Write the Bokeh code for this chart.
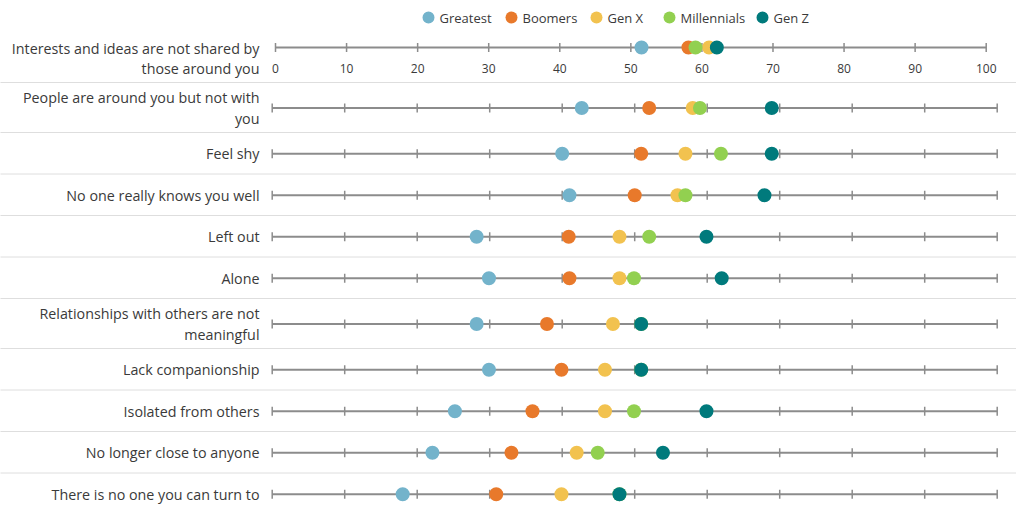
from bokeh.plotting import figure
from bokeh.models import Range1d
from bokeh.core.properties import value
from bokeh.embed import file_html
from bokeh.resources import INLINE

# ---------------- data ----------------
categories = [
    "Interests and ideas are not shared by\nthose around you",
    "People are around you but not with\nyou",
    "Feel shy",
    "No one really knows you well",
    "Left out",
    "Alone",
    "Relationships with others are not\nmeaningful",
    "Lack companionship",
    "Isolated from others",
    "No longer close to anyone",
    "There is no one you can turn to",
]
generations = ["Greatest", "Boomers", "Gen X", "Millennials", "Gen Z"]
greatest = [51.5, 42.7, 40.0, 41.0, 28.2, 29.9, 28.2, 29.9, 25.2, 22.1, 18.0]
boomers = [58.1, 52.0, 50.9, 50.0, 40.9, 41.0, 37.9, 39.9, 35.9, 33.0, 30.9]
gen_x = [61.0, 58.0, 57.0, 55.9, 47.9, 47.9, 47.0, 45.9, 45.9, 42.0, 39.9]
millennials = [59.1, 59.0, 61.9, 57.0, 52.0, 49.9, 50.9, 50.9, 49.9, 44.9, 47.9]
gen_z = [62.1, 68.9, 68.9, 67.9, 59.9, 62.0, 50.9, 50.9, 59.9, 53.9, 47.9]
tick_values = [0, 10, 20, 30, 40, 50, 60, 70, 80, 90, 100]
tick_labels = ["0", "10", "20", "30", "40", "50", "60", "70", "80", "90", "100"]

series = [greatest, boomers, gen_x, millennials, gen_z]
colors = ["#73B3CB", "#E8792B", "#F2C24F", "#92D050", "#007A7C"]

# ---------------- layout ----------------
W, H = 1017, 506
FONT = value("Open Sans")
TEXT_COLOR = "#3A3A3A"
AXIS_COLOR = "#8C8C8C"

# main scale: value 0 at px 271.7, 100 at 996.7
k_main = 7.25
xs_main = -271.7 / k_main
# first row scale: value 0 at px 275, 100 at 985.7
k_top = 7.107
xs_top = -275.0 / k_top


def px_x(px):
    return xs_main + px / k_main


p = figure(width=W, height=H, x_range=Range1d(xs_main, xs_main + W / k_main),
           y_range=Range1d(H, 0), x_axis_type=None, y_axis_type=None,
           min_border=0, toolbar_location=None, output_backend="svg",
           outline_line_color=None, background_fill_color="white")
p.extra_x_ranges = {"top": Range1d(xs_top, xs_top + W / k_top)}
p.grid.visible = False

# row geometry (y in pixels from top of canvas)
row_y = [47.0]
seps = [82.0]
for cat in categories[1:]:
    h = 50.0 if "\n" in cat else 41.5
    top = seps[-1]
    row_y.append(top + h / 2 + 0.5)
    seps.append(top + h)
seps = seps[:-1]

# separators
p.segment(x0=[px_x(0)] * len(seps), x1=[px_x(1016)] * len(seps), y0=seps, y1=seps,
          line_color="#BDBDBD", line_width=1, line_dash="1 1")

# category labels
label_y = [row_y[0] + 11] + row_y[1:]
p.text(x=[px_x(259)] * len(categories), y=label_y, text=categories,
       text_align="right", text_baseline="middle", text_font=FONT,
       text_font_size="14.3px", text_color=TEXT_COLOR, text_line_height=1.1)

# axes per row
for i, y in enumerate(row_y):
    rng = "top" if i == 0 else "default"
    p.segment(x0=[tick_values[0]], x1=[tick_values[-1]], y0=[y], y1=[y],
              line_color=AXIS_COLOR, line_width=2, x_range_name=rng)
    p.segment(x0=tick_values, x1=tick_values, y0=[y - 4.5] * len(tick_values),
              y1=[y + 4.5] * len(tick_values), line_color=AXIS_COLOR,
              line_width=1.5, x_range_name=rng)

# tick labels on first row
p.text(x=tick_values, y=[row_y[0] + 21] * len(tick_values), text=tick_labels,
       text_align="center", text_baseline="middle", text_font=FONT,
       text_font_size="12px", text_color=TEXT_COLOR, x_range_name="top")

# dots
for vals, col in zip(series, colors):
    p.scatter(x=vals[:1], y=row_y[:1], size=14, fill_color=col, line_color=None,
              x_range_name="top")
    p.scatter(x=vals[1:], y=row_y[1:], size=14, fill_color=col, line_color=None)

# legend
legend_px = [428, 511, 596, 669, 762]
p.scatter(x=[px_x(v) for v in legend_px], y=[17] * 5, size=12, fill_color=colors,
          line_color=None)
p.text(x=[px_x(v + 11) for v in legend_px], y=[17] * 5, text=generations,
       text_align="left", text_baseline="middle", text_font=FONT,
       text_font_size="13px", text_color=TEXT_COLOR)

open("out.html", "w").write(file_html(p, INLINE))
